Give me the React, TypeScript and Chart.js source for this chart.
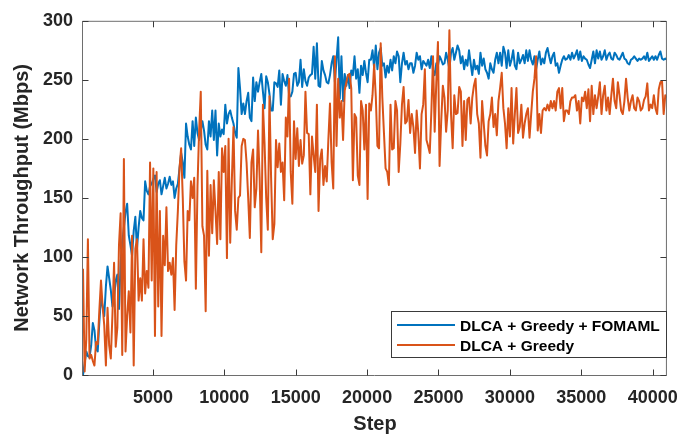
import React, { useEffect, useRef } from 'react';
import { Chart, registerables } from 'chart.js';

Chart.register(...registerables);

// ---- axis / grid definition ----
const X_MIN = 100;
const X_MAX = 41000;
const FIRST_STEP = 100;
const xTickValues = [5000, 10000, 15000, 20000, 25000, 30000, 35000, 40000];
const yTickValues = [0, 50, 100, 150, 200, 250, 300];

const seriesNames = ['DLCA + Greedy + FOMAML', 'DLCA + Greedy'];
const seriesColors = ['#0072BD', '#D95319'];

// ---- DLCA + Greedy + FOMAML (blue), segment by segment ----
const fomamlSeg1 = [0,10,20,16,15,25,44,38,22,20,45,66,58,50,75,92,82,72,58,66,80,85,56,95,112,125,138,145,118,110,101,122,134,107,125,139,133,131,164,156,153,160,162,166,169,155,162,165,153,160,167,158,162,168,161,164];
const fomamlSeg2 = [150,158,162,175,188,180,167,213,202,195,191,215,194,218,205,199,207,215,207,195,191,215,202,224,199,224,186,213,202,208,204,229,213,221,224,218,213,205,201,260,243,221,230,221,232,239,218,215,252,232,248,240,248,255,240,226,253,248,238,224];
const fomamlSeg3 = [224,248,247,244,258,229,255,249,245,254,237,236,240,255,256,245,248,267,244,259,249,245,252,254,255,278,251,281,245,244,266,258,254,248,247,254,264,270,248,267,286,234,270,232,255,245,254,243,258,254,270,251,259,239,262,254,266,256,248,267];
const fomamlSeg4 = [267,275,260,279,259,273,277,262,264,252,262,256,267,258,270,264,274,270,248,264,273,263,266,259,264,264,256,262,273,267,270,259,266,264,262,267,260,270,258,254,264,262,270,267,263,264,273,267,259,273,277,267,273,279,275,264,270,259,267,262];
const fomamlSeg5 = [275,264,254,267,259,262,255,273,262,268,259,256,251,264,259,256,267,273,264,273,262,278,273,260,275,262,267,275,262,259,273,264,267,271,264,275,266,275,267,263,270,259,267,274,263,268,264,273,277,270,264,270,273,262,264,256,262,267,270,267];
const fomamlSeg6 = [268,271,267,273,268,271,275,267,274,266,270,268,267,263,260,267,274,264,275,268,274,267,270,275,267,271,273,268,267,273,271,268,267,270,273,268,267,264,263,267,268,270,268,266,268,267,268,270,267,273,266,268,270,267,270,267,271,274,268,267,268,267];

// ---- DLCA + Greedy (orange) ----
const greedySeg1 = [90,3,30,115,14,17,12,8,28,26,55,80,58,42,8,57,25,14,51,95,24,40,110,137,17,183,20,50,71,36,118,8,107,115,63,82,63,115,69,88,74,180,80,175,33,172,58,139,33,118,93,142,88,95,85,99];
const greedySeg2 = [55,110,139,175,192,150,96,80,139,131,164,150,167,73,160,207,240,126,118,54,173,101,161,120,165,139,111,172,115,192,172,194,99,200,112,165,210,139,123,150,152,194,200,199,180,150,116,180,191,142,158,207,167,104,229,196,150,123,236,167];
const greedySeg3 = [115,128,199,176,196,172,180,148,218,202,251,172,145,215,183,209,177,199,179,186,240,205,204,153,202,186,172,229,139,183,191,161,177,164,199,230,180,158,270,194,251,218,232,199,241,248,254,255,243,165,221,218,169,161,232,224,191,229,149,230];
const greedySeg4 = [224,237,263,236,194,192,281,235,205,175,172,161,229,191,192,232,224,172,196,229,244,213,215,233,205,221,210,188,224,205,175,221,229,259,199,194,188,224,270,206,248,282,177,215,245,235,206,224,292,221,192,237,221,222,244,240,194,232,199,233];
const greedySeg5 = [235,213,235,245,251,221,213,184,232,213,194,186,215,221,235,210,221,203,232,243,256,226,213,192,226,202,243,196,221,243,205,210,229,201,213,221,226,201,221,240,251,270,207,221,205,224,226,224,229,224,232,226,232,224,240,243,226,243,215,224];
const greedySeg6 = [224,221,232,235,235,237,224,232,213,235,232,240,226,242,215,245,221,237,226,236,248,221,237,245,224,235,221,237,251,232,226,248,237,224,221,232,251,235,224,232,237,226,224,235,232,224,226,233,236,247,224,229,226,237,226,221,242,248,249,221,237,235];

const fomamlValues = [...fomamlSeg1, ...fomamlSeg2, ...fomamlSeg3, ...fomamlSeg4, ...fomamlSeg5, ...fomamlSeg6];
const greedyValues = [...greedySeg1, ...greedySeg2, ...greedySeg3, ...greedySeg4, ...greedySeg5, ...greedySeg6];

const FONT = '"Liberation Sans", Arial, Helvetica, sans-serif';
const TEXT_COLOR = '#262626';
const AXIS_COLOR = '#6e6e6e';
const TICK_LEN = 6;

function toPoints(values: number[]) {
  const interval = (X_MAX - FIRST_STEP) / (values.length - 1);
  return values.map((v, i) => ({ x: FIRST_STEP + i * interval, y: v }));
}

const framePlugin = {
  id: 'matlabFrame',
  afterDraw(chart: any) {
    const { ctx, chartArea: a, scales } = chart;
    const xs = scales.x;
    const ys = scales.y;
    const L = a.left - 0.5;
    const R = a.right - 0.5;
    const T = a.top + 0.5;
    const B = a.bottom + 0.5;
    ctx.save();
    ctx.lineWidth = 1;
    ctx.strokeStyle = AXIS_COLOR;
    ctx.beginPath();
    ctx.moveTo(L, T); ctx.lineTo(R, T); ctx.lineTo(R, B); ctx.lineTo(L, B); ctx.closePath();
    ctx.stroke();
    ctx.strokeStyle = '#3a3a3a';
    ctx.beginPath();
    xTickValues.forEach((v) => {
      const px = Math.round(xs.getPixelForValue(v)) + 0.5;
      ctx.moveTo(px, B); ctx.lineTo(px, B - TICK_LEN);
      ctx.moveTo(px, T); ctx.lineTo(px, T + TICK_LEN);
    });
    yTickValues.forEach((v) => {
      const py = Math.round(ys.getPixelForValue(v)) + 0.5;
      ctx.moveTo(L, py); ctx.lineTo(L + TICK_LEN, py);
      ctx.moveTo(R, py); ctx.lineTo(R - TICK_LEN, py);
    });
    ctx.stroke();

    // legend box (bottom-right, inside the axes)
    const lx = 391, ly = 311, lw = 275, lh = 46;
    ctx.fillStyle = '#ffffff';
    ctx.fillRect(lx, ly, lw, lh);
    ctx.strokeStyle = '#3a3a3a';
    ctx.strokeRect(lx + 0.5, ly + 0.5, lw, lh);
    ctx.font = `bold 15.5px ${FONT}`;
    ctx.textBaseline = 'alphabetic';
    ctx.textAlign = 'left';
    seriesNames.forEach((name, i) => {
      const yy = 325 + i * 20;
      ctx.strokeStyle = seriesColors[i];
      ctx.lineWidth = 2;
      ctx.beginPath();
      ctx.moveTo(397, yy); ctx.lineTo(455, yy);
      ctx.stroke();
      ctx.fillStyle = '#000000';
      ctx.fillText(name, 460, yy + 6);
    });
    ctx.restore();
  },
};

export default function App() {
  const canvasRef = useRef<HTMLCanvasElement | null>(null);

  useEffect(() => {
    const canvas = canvasRef.current;
    if (!canvas) return;
    const chart = new Chart(canvas, {
      type: 'line',
      data: {
        datasets: [
          {
            label: seriesNames[0],
            data: toPoints(fomamlValues),
            borderColor: seriesColors[0],
            backgroundColor: seriesColors[0],
            borderWidth: 2,
            pointRadius: 0,
            tension: 0,
            borderJoinStyle: 'round',
            order: 1,
          },
          {
            label: seriesNames[1],
            data: toPoints(greedyValues),
            borderColor: seriesColors[1],
            backgroundColor: seriesColors[1],
            borderWidth: 2,
            pointRadius: 0,
            tension: 0,
            borderJoinStyle: 'round',
            order: 0,
          },
        ],
      },
      options: {
        animation: false,
        responsive: true,
        maintainAspectRatio: false,
        events: [],
        layout: { padding: { top: 7, right: 13, left: 0, bottom: 0 } },
        plugins: { legend: { display: false }, tooltip: { enabled: false } },
        scales: {
          x: {
            type: 'linear',
            min: X_MIN,
            max: X_MAX,
            afterBuildTicks: (s: any) => { s.ticks = xTickValues.map((v) => ({ value: v })); },
            afterFit: (s: any) => { s.height = 66; },
            grid: { display: false, drawTicks: false },
            border: { display: false },
            ticks: {
              padding: 12,
              maxRotation: 0,
              autoSkip: false,
              color: TEXT_COLOR,
              font: { family: FONT, size: 18, weight: 'bold' },
              callback: (v: any) => String(v),
            },
            title: {
              display: true,
              text: 'Step',
              color: TEXT_COLOR,
              font: { family: FONT, size: 20, weight: 'bold' },
              padding: { top: 0, bottom: 5 },
            },
          },
          y: {
            type: 'linear',
            min: 0,
            max: 300,
            afterBuildTicks: (s: any) => { s.ticks = yTickValues.map((v) => ({ value: v })); },
            afterFit: (s: any) => { s.width = 83; },
            grid: { display: false, drawTicks: false },
            border: { display: false },
            ticks: {
              padding: 10,
              autoSkip: false,
              color: TEXT_COLOR,
              font: { family: FONT, size: 18, weight: 'bold' },
              callback: (v: any) => String(v),
            },
            title: {
              display: true,
              text: 'Network Throughput (Mbps)',
              color: TEXT_COLOR,
              font: { family: FONT, size: 20, weight: 'bold' },
              padding: { top: 10, bottom: 0 },
            },
          },
        },
      },
      plugins: [framePlugin],
    });
    return () => chart.destroy();
  }, []);

  return (
    <div style={{ position: 'absolute', left: 0, top: 0, width: 690, height: 441, background: '#ffffff' }}>
      <canvas ref={canvasRef} />
    </div>
  );
}
